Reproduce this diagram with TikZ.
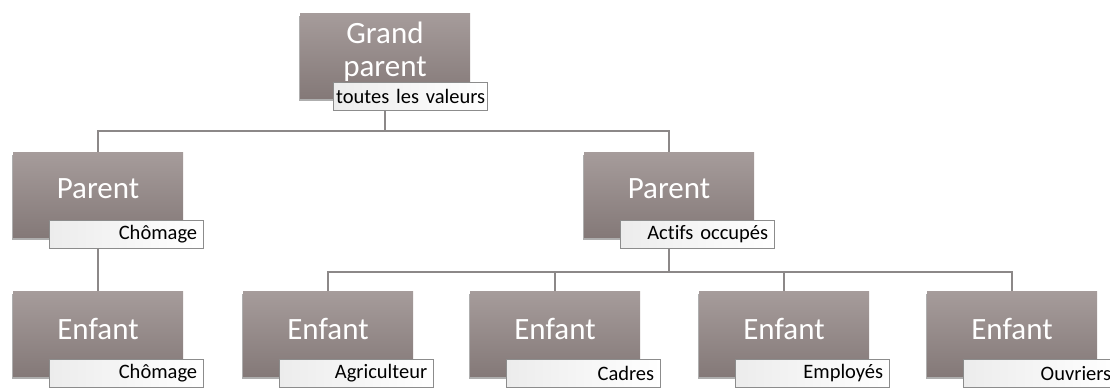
\documentclass[tikz,border=0pt]{standalone}
\usepackage{fontspec}
\setmainfont{Carlito}[Ligatures=NoCommon]
\usetikzlibrary{positioning,shadows,calc}
\definecolor{memtop}{RGB}{166,156,155}
\definecolor{membot}{RGB}{132,121,120}
\definecolor{tagline}{RGB}{140,140,140}
\definecolor{taggray}{RGB}{236,236,236}
\definecolor{linkgray}{RGB}{140,136,136}
\tikzset{
  member/.style={minimum width=170pt,minimum height=85pt,inner sep=0pt,
                 top color=memtop,bottom color=membot,
                 drop shadow={shadow xshift=-1.5pt,shadow yshift=-2.5pt,opacity=0.45,fill=black!70}},
  membertxt/.style={text=white,align=center,font=\fontsize{31pt}{33pt}\selectfont},
  tag/.style={draw=tagline,line width=0.8pt,anchor=north west,
              minimum height=28pt,inner xsep=6pt,inner ysep=0pt,text width=142pt,
              align=right,left color=taggray,right color=white,
              font=\fontsize{20.5pt}{22pt}\selectfont},
  link/.style={draw=linkgray,line width=1.3pt},
}
\begin{document}
\begin{tikzpicture}[x=1pt,y=-1pt]
  \useasboundingbox (0,0) rectangle (1110,388);
  % members of the tree
  \node[member] (gp) at (385,55.5) {};
  \node[member] (p1) at (98,194.5) {};
  \node[member] (p2) at (669,194.5) {};
  \node[member] (e1) at (98,333.5) {};
  \node[member] (e2) at (328,333.5) {};
  \node[member] (e3) at (555,333.5) {};
  \node[member] (e4) at (784,333.5) {};
  \node[member] (e5) at (1012,333.5) {};
  \node[membertxt] (gpx) at ([yshift=4pt]gp.center) {Grand\\parent};
  \foreach \m in {p1,p2}
    \node[membertxt] (\m x) at ([yshift=6pt]\m.center) {Parent};
  \foreach \m in {e1,e2,e3,e4,e5}
    \node[membertxt] (\m x) at ([yshift=5pt]\m.center) {Enfant};
  % value tags
  \node[tag,inner xsep=2pt,text width=150pt] (gpt) at ([xshift=33pt,yshift=-69pt]gp.north west) {toutes les valeurs};
  \node[tag] (p1t) at ([xshift=36pt,yshift=-68pt]p1.north west) {Chômage};
  \node[tag] (p2t) at ([xshift=36pt,yshift=-68pt]p2.north west) {Actifs occupés};
  \node[tag] (e1t) at ([xshift=36pt,yshift=-68pt]e1.north west) {Chômage};
  \node[tag] (e2t) at ([xshift=36pt,yshift=-68pt]e2.north west) {Agriculteur};
  \node[tag] (e3t) at ([xshift=36pt,yshift=-68pt]e3.north west) {Cadres};
  \node[tag] (e4t) at ([xshift=36pt,yshift=-68pt]e4.north west) {Employés};
  \node[tag] (e5t) at ([xshift=36pt,yshift=-68pt]e5.north west) {Ouvriers};
  % connectors
  \coordinate (bus1) at (385,131);
  \coordinate (bus2) at (669,272);
  \draw[link] (gp.center |- gpt.south) -- (bus1);
  \draw[link] (p1.north) |- (bus1);
  \draw[link] (p2.north) |- (bus1);
  \draw[link] (p1.center |- p1t.south) -- (e1.north);
  \draw[link] (p2.center |- p2t.south) -- (bus2);
  \foreach \e in {e2,e3,e4,e5}
    \draw[link] (\e.north) |- (bus2);
\end{tikzpicture}
\end{document}
